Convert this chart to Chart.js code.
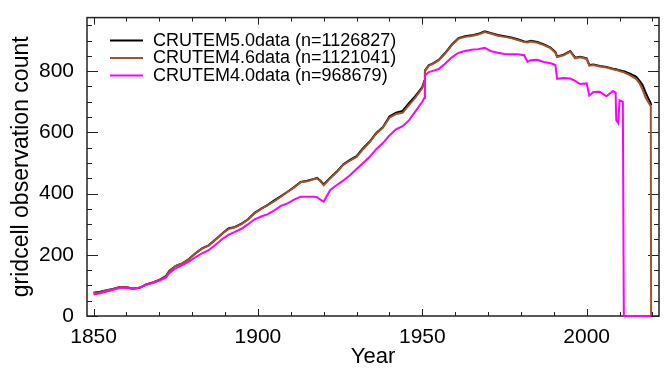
<!DOCTYPE html>
<html>
<head>
<meta charset="utf-8">
<script src="https://cdn.jsdelivr.net/npm/chart.js@4.4.0/dist/chart.umd.min.js"></script>
<style>
  html, body { margin: 0; padding: 0; background: #fff; }
</style>
</head>
<body>
<canvas id="obsChart" width="671" height="374"></canvas>
<script>
// values
const years = [
  1850, 1852, 1854, 1856, 1858, 1860, 1862, 1864, 1866, 1868, 1870, 1872, 1873, 1875, 1877, 1879,
  1881, 1883, 1885, 1887, 1889, 1891, 1893, 1895, 1897, 1899, 1901, 1903, 1905, 1907, 1909, 1911,
  1913, 1915, 1917, 1918, 1919, 1920, 1922, 1924, 1926, 1928, 1930, 1932, 1934, 1936, 1938, 1940,
  1942, 1944, 1946, 1948, 1950, 1950.6, 1950.8, 1952, 1953, 1955, 1957, 1959, 1961, 1963, 1965, 1967,
  1969, 1971, 1973, 1975, 1977, 1979, 1981, 1982, 1983, 1985, 1987, 1989, 1990.5, 1991, 1993, 1995,
  1996.5, 1998, 2000, 2000.8, 2002, 2004, 2006, 2008, 2008.8, 2009, 2009.6, 2010, 2011, 2011.3, 2013, 2015,
  2016, 2017, 2018, 2019.5, 2019.6,
];

const crutem50 = [
  76, 79, 84, 88, 95, 94, 90, 92, 103, 110, 118, 130, 147, 164, 172, 186,
  205, 221, 231, 249, 268, 286, 291, 302, 316, 337, 351, 363, 378, 392, 406, 421,
  438, 442, 448, 451, 442, 430, 452, 472, 496, 510, 522, 548, 570, 598, 617, 652,
  664, 670, 696, 720, 748, 768, 802, 820, 824, 837, 860, 887, 908, 914, 917, 922,
  930, 924, 918, 914, 910, 904, 897, 896, 899, 895, 887, 877, 862, 848, 854, 866,
  844, 847, 842, 820, 822, 817, 814, 808, 806, 806, 804, 803, 800, 800, 793, 782,
  770, 755, 728, 695, 688,
];

const crutem46 = [
  76, 78, 84, 88, 95, 94, 90, 92, 103, 110, 117, 128, 145, 164, 172, 185,
  205, 220, 230, 248, 268, 284, 290, 300, 315, 336, 350, 362, 375, 390, 405, 420,
  437, 440, 447, 450, 440, 427, 450, 470, 494, 508, 520, 545, 568, 596, 615, 648,
  660, 664, 690, 715, 745, 765, 800, 818, 822, 835, 858, 885, 906, 912, 915, 920,
  928, 922, 916, 912, 908, 902, 895, 894, 897, 893, 885, 875, 860, 846, 852, 864,
  842, 845, 840, 818, 820, 815, 812, 806, 804, 804, 802, 800, 797, 796, 788, 775,
  762, 740, 712, 685, 0,
];

const crutem40 = [
  70, 74, 80, 86, 92, 92, 88, 92, 102, 108, 116, 125, 140, 156, 166, 178,
  192, 205, 215, 232, 250, 265, 275, 285, 300, 316, 325, 333, 345, 360, 368, 380,
  390, 390, 390, 388, 380, 374, 412, 428, 443, 460, 480, 500, 520, 545, 565, 590,
  610, 620, 640, 670, 700, 712, 786, 797, 800, 807, 825, 845, 860, 866, 870, 872,
  876, 865, 860, 856, 855, 855, 852, 830, 836, 837, 830, 826, 820, 775, 778, 776,
  768, 758, 760, 720, 732, 733, 718, 735, 730, 640, 630, 705, 700, 0, 0, 0,
  0, 0, 0, 0, 0,
];

const seriesLabels = [
  'CRUTEM5.0data (n=1126827)',
  'CRUTEM4.6data (n=1121041)',
  'CRUTEM4.0data (n=968679)',
];
const seriesColors = ['#000000', '#a0522d', '#ff00ff'];

const xTickLabels = [1850, 1900, 1950, 2000];
const yTickLabels = [0, 200, 400, 600, 800];

const FONT = 'Liberation Sans, Arial, sans-serif';

function toPoints(values) {
  return years.map((yr, i) => ({ x: yr, y: values[i] }));
}

// IDL-style frame with ticks pointing into the plot on all four sides
const inwardTicks = {
  id: 'inwardTicks',
  beforeDatasetsDraw(chart) {
    const { ctx, chartArea: a, scales: { x, y } } = chart;
    ctx.save();
    ctx.strokeStyle = '#222';
    ctx.lineWidth = 1;
    ctx.beginPath();
    for (let v = 1850; v <= x.max; v += 10) {
      const px = Math.round(x.getPixelForValue(v)) + 0.5;
      const len = v % 50 === 0 ? 7 : 4;
      ctx.moveTo(px, a.bottom);
      ctx.lineTo(px, a.bottom - len);
      ctx.moveTo(px, a.top);
      ctx.lineTo(px, a.top + len);
    }
    for (let v = 0; v <= y.max; v += 50) {
      const py = Math.round(y.getPixelForValue(v)) + 0.5;
      const len = v % 200 === 0 ? 11 : 5;
      ctx.moveTo(a.left, py);
      ctx.lineTo(a.left + len, py);
      ctx.moveTo(a.right, py);
      ctx.lineTo(a.right - len, py);
    }
    ctx.stroke();
    ctx.lineWidth = 1.5;
    ctx.strokeRect(a.left, a.top, a.width, a.height);
    ctx.restore();
  },
};

// legend drawn inside the plot, top left
const insideLegend = {
  id: 'insideLegend',
  afterDraw(chart) {
    const { ctx, chartArea: a } = chart;
    ctx.save();
    ctx.font = `18px ${FONT}`;
    ctx.textBaseline = 'middle';
    ctx.fillStyle = '#000';
    seriesLabels.forEach((label, i) => {
      const rowY = a.top + 23 + i * 17.5;
      ctx.strokeStyle = seriesColors[i];
      ctx.lineWidth = 2;
      ctx.beginPath();
      ctx.moveTo(a.left + 23, rowY);
      ctx.lineTo(a.left + 56, rowY);
      ctx.stroke();
      ctx.fillText(label, a.left + 66, rowY);
    });
    ctx.restore();
  },
};

const ctx = document.getElementById('obsChart').getContext('2d');

new Chart(ctx, {
  type: 'line',
  data: {
    datasets: [
      {
        label: seriesLabels[0],
        data: toPoints(crutem50),
        borderColor: seriesColors[0],
        borderWidth: 2,
        pointRadius: 0,
        tension: 0,
        clip: 4,
        order: 2,
      },
      {
        label: seriesLabels[1],
        data: toPoints(crutem46),
        borderColor: seriesColors[1],
        borderWidth: 2,
        pointRadius: 0,
        tension: 0,
        clip: 4,
        order: 1,
      },
      {
        label: seriesLabels[2],
        data: toPoints(crutem40),
        borderColor: seriesColors[2],
        borderWidth: 2,
        pointRadius: 0,
        tension: 0,
        clip: 4,
        order: 0,
      },
    ],
  },
  options: {
    responsive: false,
    animation: false,
    devicePixelRatio: 1,
    layout: {
      padding: { top: 9, right: 12, bottom: 0, left: 0 },
    },
    plugins: {
      legend: { display: false },
      tooltip: { enabled: false },
    },
    scales: {
      x: {
        type: 'linear',
        min: 1848,
        max: 2022,
        afterBuildTicks: (scale) => {
          scale.ticks = xTickLabels.map((v) => ({ value: v }));
        },
        afterFit: (scale) => {
          scale.height = 58;
        },
        grid: { display: false },
        border: { display: false },
        ticks: {
          color: '#000',
          font: { family: FONT, size: 21 },
          padding: 1,
          maxRotation: 0,
          callback: (v) => String(v),
        },
        title: {
          display: true,
          text: 'Year',
          color: '#000',
          font: { family: FONT, size: 22 },
          padding: { top: 0, bottom: 4 },
        },
      },
      y: {
        type: 'linear',
        min: 0,
        max: 975,
        afterBuildTicks: (scale) => {
          scale.ticks = yTickLabels.map((v) => ({ value: v }));
        },
        afterFit: (scale) => {
          scale.width = 87;
        },
        grid: { display: false },
        border: { display: false },
        ticks: {
          color: '#000',
          font: { family: FONT, size: 21 },
          padding: 5,
        },
        title: {
          display: true,
          text: 'gridcell observation count',
          color: '#000',
          font: { family: FONT, size: 23 },
          padding: { top: 8, bottom: 0 },
        },
      },
    },
  },
  plugins: [inwardTicks, insideLegend],
});
</script>
</body>
</html>
